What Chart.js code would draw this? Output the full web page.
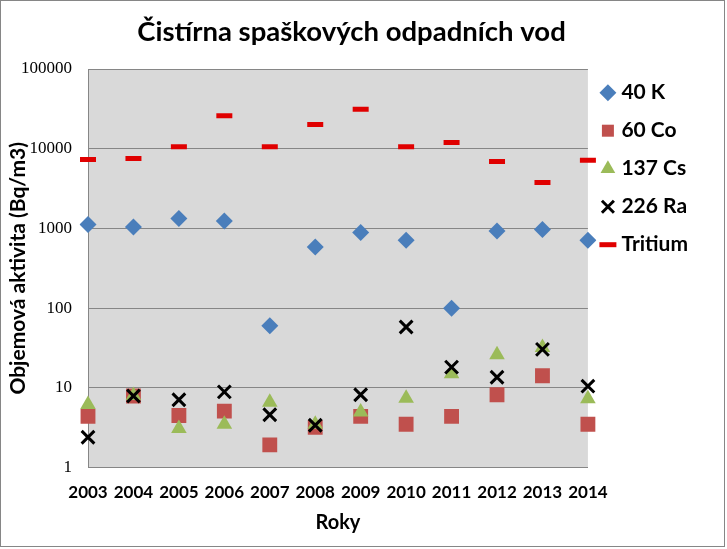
<!DOCTYPE html>
<html>
<head>
<meta charset="utf-8">
<script src="https://cdn.jsdelivr.net/npm/chart.js@4.4.1/dist/chart.umd.min.js"></script>
<style>
html,body{margin:0;padding:0;background:#fff;}
#wrap{position:relative;width:727px;height:549px;}
</style>
</head>
<body>
<div id="wrap"><canvas id="c" width="727" height="549"></canvas></div>
<script>
const years = ['2003','2004','2005','2006','2007','2008','2009','2010','2011','2012','2013','2014'];
const k40 = [1120, 1045, 1330, 1240, 60, 586, 888, 711, 100, 931, 968, 711];
const co60 = [4.4, 7.9, 4.5, 5.1, 1.93, 3.2, 4.4, 3.5, 4.4, 8.2, 14.2, 3.5];
const cs137 = [6.2, 8.0, 3.1, 3.5, 6.6, 3.5, 5.0, 7.4, 15, 26, 32, 7.3];
const ra226 = [2.4, 7.9, 7.1, 8.9, 4.6, 3.4, 8.2, 58, 18.2, 13.6, 30.4, 10.5];
const tritium = [7340, 7550, 10600, 25900, 10600, 20200, 31200, 10600, 12000, 6920, 3770, 7190];
const yTicks = [1, 10, 100, 1000, 10000, 100000];
const yTitle = 'Objemová aktivita (Bq/m3)';
const xTitle = 'Roky';

const bgPlugin = {
  id: 'bg',
  beforeDraw(chart) {
    const {ctx, chartArea: a} = chart;
    ctx.save();
    ctx.fillStyle = '#fff';
    ctx.fillRect(0, 0, chart.width, chart.height);
    ctx.fillStyle = '#d9d9d9';
    ctx.fillRect(a.left, a.top, a.right - a.left, a.bottom - a.top);
    ctx.restore();
  },
  afterDraw(chart) {
    const {ctx, chartArea: a} = chart;
    ctx.save();
    ctx.strokeStyle = '#868686';
    ctx.lineWidth = 1;
    ctx.strokeRect(0.5, 0.5, 724, 546);
    ctx.fillStyle = '#000';
    ctx.textAlign = 'center';
    ctx.textBaseline = 'middle';
    ctx.font = 'bold 20px Lato';
    ctx.fillText(xTitle, (a.left + a.right) / 2, 523);
    ctx.translate(18, (a.top + a.bottom) / 2);
    ctx.rotate(-Math.PI / 2);
    ctx.font = 'bold 21px Lato';
    ctx.fillText(yTitle, 0, 0);
    ctx.restore();
  }
};

new Chart(document.getElementById('c'), {
  type: 'line',
  data: {
    labels: years,
    datasets: [
      {label: '40 K', data: k40, showLine: false, pointStyle: 'rectRot', pointRadius: 8.5, pointHoverRadius: 8.5,
       backgroundColor: '#4a7ebb', borderColor: '#4a7ebb', pointBorderWidth: 0, order: 5},
      {label: '60 Co', data: co60, showLine: false, pointStyle: 'rect', pointRadius: 10.5, pointHoverRadius: 10.5,
       backgroundColor: '#c0504d', borderColor: '#c0504d', pointBorderWidth: 0, order: 4},
      {label: '137 Cs', data: cs137, showLine: false, pointStyle: 'triangle', pointRadius: 9, pointHoverRadius: 9,
       backgroundColor: '#9bbb59', borderColor: '#9bbb59', pointBorderWidth: 0, order: 3},
      {label: '226 Ra', data: ra226, showLine: false, pointStyle: 'crossRot', pointRadius: 9, pointHoverRadius: 9,
       backgroundColor: '#000', borderColor: '#000', pointBorderWidth: 3, order: 1},
      {label: 'Tritium', data: tritium, showLine: false, pointStyle: 'line', pointRadius: 8, pointHoverRadius: 8,
       backgroundColor: '#e00000', borderColor: '#e00000', pointBorderWidth: 5, order: 2}
    ]
  },
  options: {
    responsive: false,
    animation: false,
    events: [],
    layout: {padding: {left: 5, right: 29, top: 4, bottom: 31}},
    plugins: {
      title: {
        display: true,
        text: 'Čistírna spaškových odpadních vod',
        color: '#000',
        font: {family: 'Lato', size: 27.5, weight: 'bold'},
        padding: {top: 12, bottom: 20}
      },
      legend: {
        position: 'right',
        align: 'start',
        title: {display: true, text: ' ', font: {size: 1}, padding: {top: 0, bottom: 60}},
        labels: {
          usePointStyle: true,
          color: '#000',
          font: {family: 'Lato', size: 21, weight: 'bold'},
          padding: 17,
          boxWidth: 6,
          boxHeight: 12,
          sort: (a, b) => a.datasetIndex - b.datasetIndex
        }
      },
      tooltip: {enabled: false}
    },
    scales: {
      x: {
        offset: false,
        grid: {display: false, drawTicks: false},
        border: {display: true, color: '#868686', width: 1},
        ticks: {color: '#000', font: {family: 'Lato', size: 17, weight: 'bold'}, padding: 15, maxRotation: 0, autoSkip: false}
      },
      y: {
        type: 'logarithmic',
        min: 1,
        max: 100000,
        afterBuildTicks: (scale) => { scale.ticks = yTicks.map(v => ({value: v})); },
        grid: {color: '#868686', lineWidth: 1, drawTicks: false},
        border: {display: true, color: '#868686', width: 1},
        ticks: {color: '#000', font: {family: 'Liberation Serif', size: 17}, padding: 16,
                callback: (v) => String(v)}
      }
    }
  },
  plugins: [bgPlugin]
});
</script>
</body>
</html>
